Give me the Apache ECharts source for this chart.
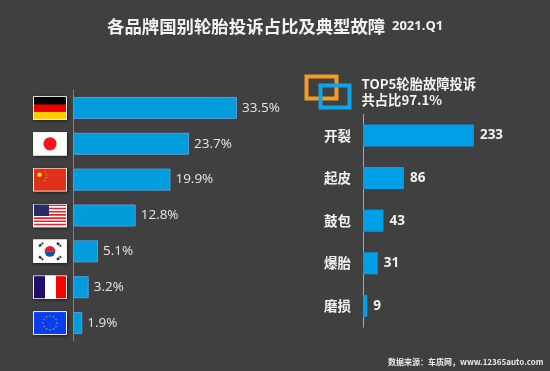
<!DOCTYPE html>
<html><head><meta charset="utf-8">
<style>html,body{margin:0;padding:0;background:#404040}#c{width:550px;height:371px}</style>
<script src="https://cdn.jsdelivr.net/npm/echarts@6/dist/echarts.min.js"></script>
</head><body><div id="c"></div>
<script>
const countries = ['de','jp','cn','us','kr','fr','eu'];
const shares = [33.5,23.7,19.9,12.8,5.1,3.2,1.9];
const faults = ['开裂','起皮','鼓包','爆胎','磨损'];
const faultCounts = [233,86,43,31,9];

function svg(inner){
  return 'data:image/svg+xml;charset=utf-8,'+encodeURIComponent(
  '<svg xmlns="http://www.w3.org/2000/svg" width="34" height="24" viewBox="0 0 34 24">'+inner+
  '<rect x="0.5" y="0.5" width="33" height="23" fill="none" stroke="#f0f0f0" stroke-width="1"/></svg>');
}
let usStripes='';
for(let i=0;i<7;i++) usStripes+=`<rect x="0" y="${1+i*3.2}" width="34" height="1.6" fill="#e8202a"/>`;
let euStars='';
[[17,5],[20.5,6],[23,8.5],[24,12],[23,15.5],[20.5,18],[17,19],[13.5,18],[11,15.5],[10,12],[11,8.5],[13.5,6]].forEach(p=>{euStars+=`<circle cx="${p[0]}" cy="${p[1]}" r="0.7" fill="#c9b53a"/>`;});
const flags = {
 de: svg('<rect width="34" height="8.5" fill="#000"/><rect y="8.5" width="34" height="7.5" fill="#f00000"/><rect y="16" width="34" height="8" fill="#ffcc00"/>'),
 jp: svg('<rect width="34" height="24" fill="#fff"/><circle cx="17" cy="12" r="6.6" fill="#f5141e"/>'),
 cn: svg('<rect width="34" height="24" fill="#e0301a"/><circle cx="6.5" cy="7" r="2.2" fill="#f8d81c"/><circle cx="12" cy="4" r="0.7" fill="#f0b81c"/><circle cx="13.5" cy="7" r="0.7" fill="#f0b81c"/><circle cx="13.5" cy="10" r="0.7" fill="#f0b81c"/><circle cx="11.5" cy="12.5" r="0.7" fill="#f0b81c"/>'),
 us: svg('<rect width="34" height="24" fill="#fff"/>'+usStripes+'<rect width="16" height="12.5" fill="#2a2a66"/>'),
 kr: svg('<rect width="34" height="24" fill="#fff"/><path d="M11.6 12a5.4 5.4 0 0 1 10.8 0z" fill="#e0202a"/><path d="M11.6 12a5.4 5.4 0 0 0 10.8 0z" fill="#1a4fa8"/><g stroke="#333" stroke-width="2.4" stroke-dasharray="3 0.8"><path d="M6 7l4-3.4"/><path d="M24 3.6l4 3.4"/><path d="M6 17l4 3.4"/><path d="M24 20.4l4-3.4"/></g>'),
 fr: svg('<rect width="12" height="24" fill="#1f0f6b"/><rect x="12" width="11" height="24" fill="#fff"/><rect x="23" width="11" height="24" fill="#ff0000"/>'),
 eu: svg('<rect width="34" height="24" fill="#0a3df0"/>'+euStars)
};
const rich = {};
countries.forEach(k=>{rich[k]={width:34,height:24,backgroundColor:{image:flags[k]},shadowColor:'rgba(0,0,0,0.55)',shadowBlur:3,shadowOffsetX:1,shadowOffsetY:1};});

const FONT='"Noto Sans CJK SC","Noto Sans",sans-serif';
const chart = echarts.init(document.getElementById('c'),null,{renderer:'canvas'});
chart.setOption({
 animation:false,
 backgroundColor:'#404040',
 grid:[
  {left:73,top:90,width:195.8,height:251},
  {left:363,top:114.2,width:119,height:213}
 ],
 xAxis:[
  {gridIndex:0,type:'value',min:0,max:40,show:false},
  {gridIndex:1,type:'value',min:0,max:250,show:false}
 ],
 yAxis:[
  {gridIndex:0,type:'category',inverse:true,data:countries,
   axisLine:{lineStyle:{color:'#7f7f7f',width:1}},axisTick:{show:false},
   axisLabel:{margin:6,interval:0,formatter:v=>'{'+v+'| }',rich}},
  {gridIndex:1,type:'category',inverse:true,data:faults,
   axisLine:{lineStyle:{color:'#a6a6a6',width:1}},axisTick:{show:false},
   axisLabel:{margin:12,interval:0,color:'#f2f2f2',fontSize:13.5,fontWeight:'bold',fontFamily:FONT}}
 ],
 series:[
  {type:'bar',xAxisIndex:0,yAxisIndex:0,data:shares,barWidth:22,silent:true,
   itemStyle:{color:'#009cdc',borderColor:'#5b9bd5',borderWidth:1},
   label:{show:true,position:'right',distance:5,color:'#e6e6e6',fontSize:13.5,fontFamily:'"Open Sans",sans-serif',formatter:p=>p.value+'%'}},
  {type:'bar',xAxisIndex:1,yAxisIndex:1,data:faultCounts,barWidth:22,silent:true,
   itemStyle:{color:'#00a0e9'},
   label:{show:true,position:'right',distance:6,color:'#f2f2f2',fontSize:13.5,fontWeight:'bold',fontFamily:'"Open Sans",sans-serif'}}
 ],
 graphic:[
  {type:'text',left:107,top:17.5,style:{text:'各品牌国别轮胎投诉占比及典型故障',fill:'#f2f2f2',font:'bold 17.4px '+FONT}},
  {type:'text',left:392,top:20,style:{text:'2021.Q1',fill:'#f2f2f2',font:'bold 13px "Open Sans",sans-serif'}},
  {type:'rect',shape:{x:306.5,y:76.5,width:30,height:22},style:{fill:'none',stroke:'#f39c26',lineWidth:4}},
  {type:'rect',shape:{x:320.5,y:85.5,width:29,height:22},style:{fill:'none',stroke:'#0ea5e8',lineWidth:4}},
  {type:'text',left:361.5,top:77.5,style:{text:'TOP5轮胎故障投诉',fill:'#f2f2f2',font:'bold 13.3px '+FONT}},
  {type:'text',left:361.5,top:93.5,style:{text:'共占比97.1%',fill:'#f2f2f2',font:'bold 13.3px '+FONT}},
  {type:'text',left:388,top:358,style:{text:'数据来源：车质网，www.12365auto.com',fill:'#e8e8e8',font:'bold 8px '+FONT}}
 ]
});
</script></body></html>
